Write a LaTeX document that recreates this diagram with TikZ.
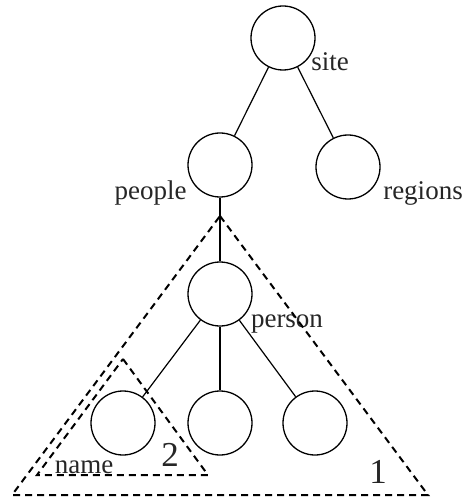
\documentclass[tikz,border=0pt]{standalone}
\usepackage{fontspec}
\setmainfont{Liberation Serif}
\begin{document}
\begin{tikzpicture}[x=1pt,y=-1pt,
  tnode/.style={circle,draw,line width=1.3pt,minimum size=64pt,inner sep=0pt},
  edge/.style={line width=1.2pt},
  lbl/.style={font=\fontsize{27}{30}\selectfont,text=black!85,inner sep=0pt,anchor=base},
  num/.style={lbl,font=\fontsize{35}{38}\selectfont},
  region/.style={line width=2pt,dash pattern=on 7pt off 5pt}]
\useasboundingbox (0,0) rectangle (466,502);
% tree nodes
\node[tnode] (site) at (283,38) {};
\node[tnode] (people) at (220,165) {};
\node[tnode] (regions) at (348,167) {};
\node[tnode] (person) at (220,294) {};
\node[tnode] (name) at (123,423) {};
\node[tnode] (mid) at (220,423) {};
\node[tnode] (right) at (315,423) {};
% labels (placed by baseline)
\node[lbl] (lsite) at (330,71) {site};
\node[lbl] (lpeople) at (150.5,200) {people};
\node[lbl] (lregions) at (423,200) {regions};
\node[lbl] (lperson) at (287,327) {person};
\node[lbl] (lname) at (84,473) {name};
\node[num] (ltwo) at (170,466) {2};
\node[num] (lone) at (378,483) {1};
% edges
\draw[edge] (site) -- (people);
\draw[edge] (site) -- (regions);
\draw[edge] (people) -- (person);
\draw[edge] (person) -- (name);
\draw[edge] (person) -- (mid);
\draw[edge] (person) -- (right);
% subtree regions
\coordinate (t1a) at (220,216);
\coordinate (t1l) at (12,495);
\coordinate (t1r) at (428,495);
\coordinate (t2a) at (123,359);
\coordinate (t2l) at (37,475);
\coordinate (t2r) at (208,475);
\draw[region] (t1a) -- (t1r) -- (t1l) -- cycle;
\draw[region] (t2a) -- (t2r) -- (t2l) -- cycle;
\end{tikzpicture}
\end{document}
